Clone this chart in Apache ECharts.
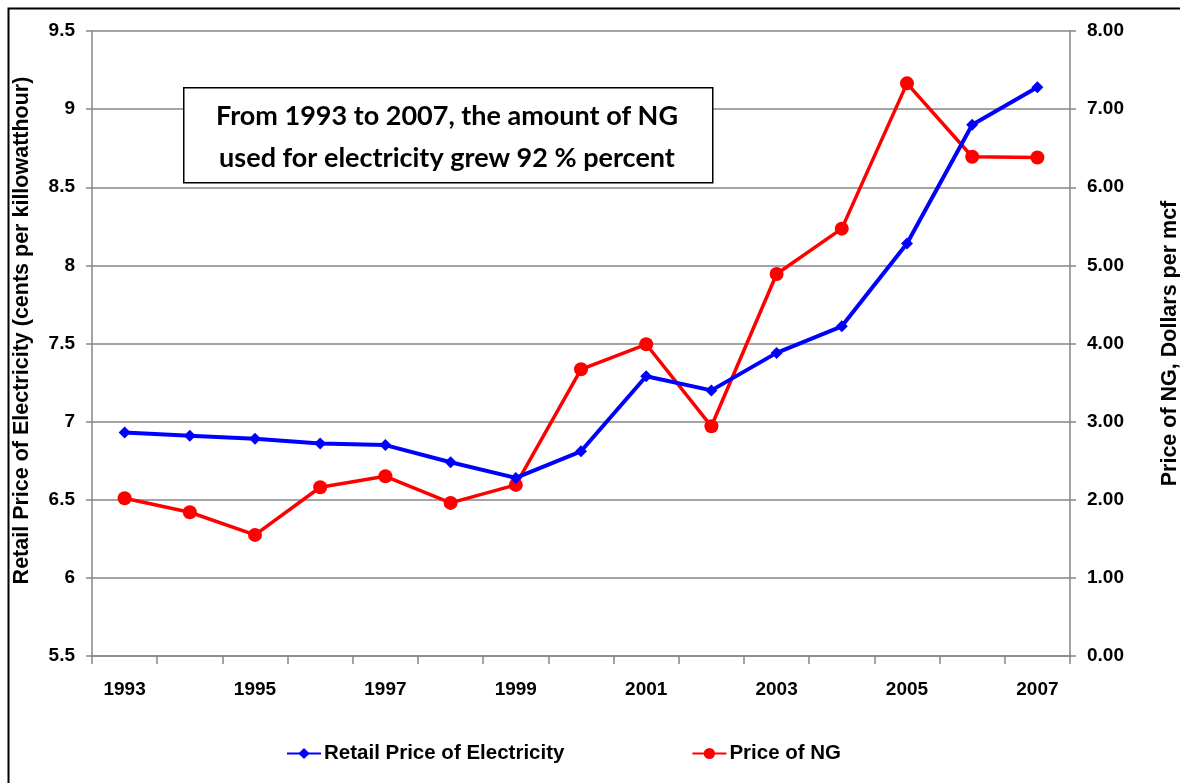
<!DOCTYPE html>
<html>
<head>
<meta charset="utf-8">
<script src="https://cdn.jsdelivr.net/npm/echarts@6/dist/echarts.min.js"></script>
<style>html,body{margin:0;padding:0;background:#fff}#c{width:1180px;height:783px}</style>
</head>
<body>
<div id="c"></div>
<script>
const years = ['1993','1994','1995','1996','1997','1998','1999','2000','2001','2002','2003','2004','2005','2006','2007'];
const electricity = [6.93,6.91,6.89,6.86,6.85,6.74,6.64,6.81,7.29,7.20,7.44,7.61,8.14,8.90,9.14];
const ngPrice = [2.02,1.84,1.55,2.16,2.30,1.96,2.19,3.67,3.99,2.94,4.89,5.47,7.33,6.39,6.38];
const annotationLines = ['From 1993 to 2007, the amount of NG', 'used for electricity grew 92 % percent'];

const chart = echarts.init(document.getElementById('c'), null, {renderer:'canvas'});
const FF = 'Liberation Sans, Arial, sans-serif';
const tickFont = {fontFamily:FF, fontWeight:'bold', fontSize:19, color:'#000'};
const nameFont = {fontFamily:FF, fontWeight:'bold', fontSize:21.5, color:'#000'};
const gray = '#868686';
chart.setOption({
  animation:false,
  backgroundColor:'#fff',
  grid:{left:92, right:110, top:31, bottom:127, containLabel:false, outerBoundsMode:'none'},
  legend:{
    left:281, top:738,
    itemGap:127, itemWidth:34, itemHeight:14,
    textStyle:{fontFamily:FF, fontWeight:'bold', fontSize:20.5, color:'#000', padding:[0,0,0,-2]},
    data:['Retail Price of Electricity','Price of NG']
  },
  xAxis:{
    type:'category', data:years, boundaryGap:true,
    axisLine:{lineStyle:{color:gray, width:1.5}},
    axisTick:{show:true, alignWithLabel:false, interval:0, length:8, lineStyle:{color:gray, width:1.5}},
    axisLabel:Object.assign({interval:1, margin:24}, tickFont),
    splitLine:{show:false}
  },
  yAxis:[{
    type:'value', min:5.5, max:9.5, interval:0.5,
    name:'Retail Price of Electricity (cents per killowatthour)',
    nameLocation:'middle', nameGap:59, nameRotate:90,
    nameTextStyle:Object.assign({padding:[0,0,0,26]}, nameFont),
    axisLine:{show:true, lineStyle:{color:gray, width:1.5}},
    axisTick:{show:true, length:6, lineStyle:{color:gray, width:1.5}},
    axisLabel:Object.assign({margin:17}, tickFont),
    splitLine:{show:true, lineStyle:{color:gray, width:1.5}}
  },{
    type:'value', min:0, max:8, interval:1, position:'right',
    name:'Price of NG, Dollars per mcf',
    nameLocation:'middle', nameGap:89, nameRotate:90,
    nameTextStyle:nameFont,
    axisLine:{show:true, lineStyle:{color:gray, width:1.5}},
    axisTick:{show:true, length:6, lineStyle:{color:gray, width:1.5}},
    axisLabel:Object.assign({margin:17, formatter:v=>v.toFixed(2)}, tickFont),
    splitLine:{show:false}
  }],
  series:[{
    name:'Retail Price of Electricity', type:'line', yAxisIndex:0, data:electricity,
    symbol:'diamond', symbolSize:12, lineStyle:{color:'#0000ff', width:4},
    itemStyle:{color:'#0000ff'}, z:3
  },{
    name:'Price of NG', type:'line', yAxisIndex:1, data:ngPrice,
    symbol:'circle', symbolSize:14, lineStyle:{color:'#ff0000', width:3.5},
    itemStyle:{color:'#ff0000'}, z:2
  }],
  graphic:[
    {type:'rect', left:6, top:6, shape:{width:1200, height:800}, style:{fill:'none', stroke:'#000', lineWidth:2}, silent:true, z:0},
    {type:'rect', left:183, top:87, shape:{width:529, height:95}, style:{fill:'#fff', stroke:'#000', lineWidth:1.5}, z:10},
    {type:'text', x:447, y:116, style:{text:annotationLines[0], font:'bold 27px Lato, "Open Sans", sans-serif', fill:'#000', align:'center', verticalAlign:'middle'}, z:11},
    {type:'text', x:447, y:158, style:{text:annotationLines[1], font:'bold 27px Lato, "Open Sans", sans-serif', fill:'#000', align:'center', verticalAlign:'middle'}, z:11}
  ]
});
</script>
</body>
</html>
